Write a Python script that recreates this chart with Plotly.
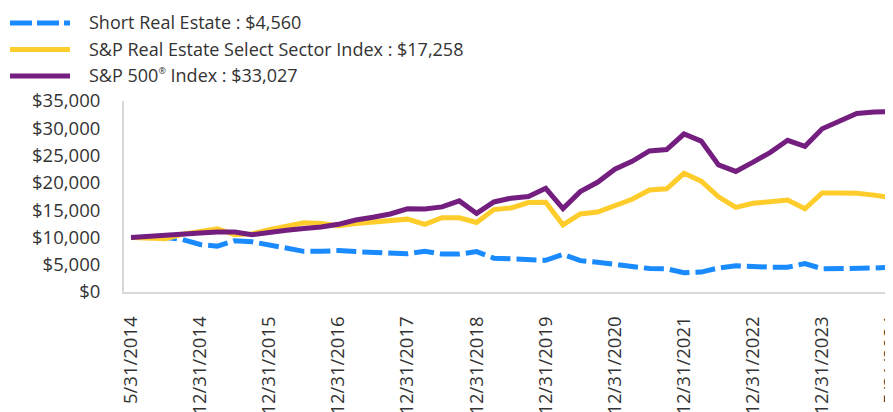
import plotly.graph_objects as go

# ---------------- data ----------------
tick_labels = ["5/31/2014", "12/31/2014", "12/31/2015", "12/31/2016", "12/31/2017",
               "12/31/2018", "12/31/2019", "12/31/2020", "12/31/2021", "12/31/2022",
               "12/31/2023", "5/31/2024"]
tick_step = 4  # one label every 4 observations

short_real_estate = [10000, 10000, 10000, 9600, 8700, 8400, 9400, 9200, 8600, 8000,
                     7450, 7450, 7600, 7400, 7250, 7100, 7000, 7450, 6950, 6950,
                     7400, 6200, 6100, 5800, 5800, 6900, 5750, 5450, 5100, 4600,
                     4300, 4250, 3550, 3650, 4400, 4800, 4600, 4550, 4550, 5200,
                     4250, 4250, 4300, 4400, 4560]

sp_real_estate = [10000, 9900, 9750, 10600, 11100, 11600, 10500, 10650, 11400, 12000,
                  12700, 12550, 12150, 12550, 12800, 13000, 13350, 12400, 13600, 13600,
                  12750, 15100, 15400, 16400, 16450, 12300, 14300, 14650, 15750, 17000,
                  18700, 18900, 21750, 20300, 17450, 15500, 16250, 16550, 16850, 15250,
                  18150, 18150, 18100, 17750, 17258]

sp_500 = [10000, 10150, 10350, 10600, 10800, 11000, 11000, 10500, 11000, 11300,
          11650, 11900, 12400, 13200, 13700, 14300, 15250, 15200, 15600, 16700,
          14400, 16500, 17200, 17500, 19000, 15300, 18400, 20100, 22500, 23950,
          25850, 26100, 28950, 27650, 23300, 22100, 23800, 25600, 27800, 26700,
          29900, 31350, 32700, 33000, 33027]

series_names = ["Short Real Estate", "S&P Real Estate Select Sector Index",
                "S&P 500<sup><span style='font-size:9px'>®</span></sup> Index"]
series_values = [short_real_estate, sp_real_estate, sp_500]

y_ticks = [0, 5000, 10000, 15000, 20000, 25000, 30000, 35000]

# ---------------- styling ----------------
colors = ["#1A8BFF", "#FFCD2B", "#741E7F"]
dashes = ["20px,6px", "solid", "solid"]
FONT = "Open Sans"
FS_LEG = 18
FS_TICK = 18.5
TXT = "#333333"

# page body has an 8px margin, so figure coords = screen coords - 8
OFF = 8
W, H = 893, 412
ML = 124 - OFF
MT = 101 - OFF
MB = H - (292 - OFF)
MR = 0
PW, PH = W - ML - MR, H - MT - MB

n = len(short_real_estate)
x = list(range(n))

fig = go.Figure()
for name, vals, c, d in zip(series_names, series_values, colors, dashes):
    fig.add_trace(go.Scatter(x=x, y=vals, mode="lines", name=name,
                             line=dict(color=c, width=5, dash=d),
                             showlegend=False, hoverinfo="skip"))

def px_to_paper(sx, sy):
    fx, fy = sx - OFF, sy - OFF
    return (fx - ML) / PW, (H - MB - fy) / PH

# manual legend (long line samples like the reference)
legend_rows = [22, 48.5, 75]
for name, vals, c, d, ry in zip(series_names, series_values, colors, dashes, legend_rows):
    x0, y0 = px_to_paper(10, ry + 1)
    x1, _ = px_to_paper(70, ry + 1)
    fig.add_shape(type="line", xref="paper", yref="paper", x0=x0, x1=x1, y0=y0, y1=y0,
                  line=dict(color=c, width=5, dash=("22px,5px" if d != "solid" else "solid")))
    tx, ty = px_to_paper(88, ry)
    fig.add_annotation(xref="paper", yref="paper", x=tx, y=ty, xanchor="left", yanchor="middle",
                       text=f"{name} : ${vals[-1]:,}", showarrow=False, borderpad=0,
                       font=dict(family=FONT, size=FS_LEG, color=TXT))

span_px = 17.28
x_start = -(131 - 124) / span_px
x_end = x_start + PW / span_px

fig.update_layout(
    width=W, height=H,
    margin=dict(l=ML, r=MR, t=MT, b=MB, pad=0),
    paper_bgcolor="white", plot_bgcolor="white",
    font=dict(family=FONT, size=FS_TICK, color=TXT),
    showlegend=False,
    xaxis=dict(range=[x_start, x_end],
               tickmode="array",
               tickvals=[i * tick_step for i in range(len(tick_labels))],
               ticktext=tick_labels, tickangle=-90,
               ticklabeloverflow="allow",
               showgrid=False, zeroline=False,
               showline=True, linecolor="#D9D9D9", linewidth=2,
               ticks="", ticklabelstandoff=15,
               tickfont=dict(family=FONT, size=FS_TICK, color=TXT)),
    yaxis=dict(range=[0, 35000], tickmode="array", tickvals=y_ticks,
               ticktext=[f"${v:,}" for v in y_ticks],
               showgrid=False, zeroline=False,
               showline=True, linecolor="#D9D9D9", linewidth=2,
               ticks="", ticklabelstandoff=18,
               tickfont=dict(family=FONT, size=FS_TICK, color=TXT)),
)

fig.write_html("out.html", config={"displayModeBar": False})
